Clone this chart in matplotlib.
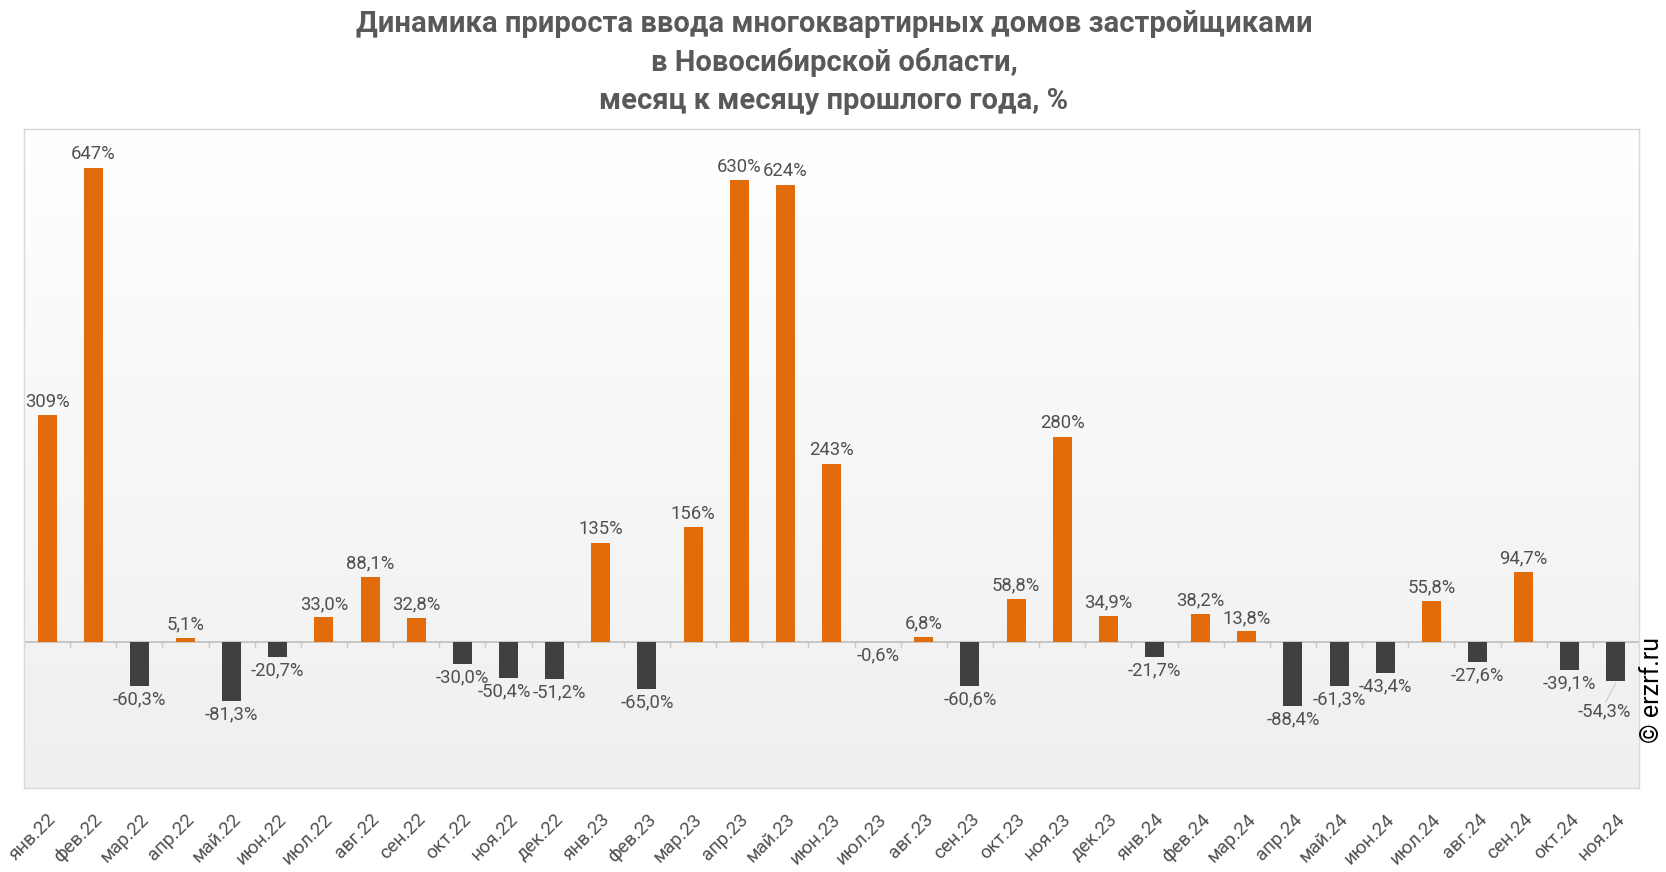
import matplotlib
matplotlib.use("Agg")
import matplotlib.pyplot as plt
import numpy as np
from matplotlib.colors import LinearSegmentedColormap

months = ["янв.22","фев.22","мар.22","апр.22","май.22","июн.22","июл.22","авг.22","сен.22","окт.22","ноя.22","дек.22",
          "янв.23","фев.23","мар.23","апр.23","май.23","июн.23","июл.23","авг.23","сен.23","окт.23","ноя.23","дек.23",
          "янв.24","фев.24","мар.24","апр.24","май.24","июн.24","июл.24","авг.24","сен.24","окт.24","ноя.24"]
values = [309, 647, -60.3, 5.1, -81.3, -20.7, 33.0, 88.1, 32.8, -30.0, -50.4, -51.2,
          135, -65.0, 156, 630, 624, 243, -0.6, 6.8, -60.6, 58.8, 280, 34.9,
          -21.7, 38.2, 13.8, -88.4, -61.3, -43.4, 55.8, -27.6, 94.7, -39.1, -54.3]
labels = ["309%","647%","-60,3%","5,1%","-81,3%","-20,7%","33,0%","88,1%","32,8%","-30,0%","-50,4%","-51,2%",
          "135%","-65,0%","156%","630%","624%","243%","-0,6%","6,8%","-60,6%","58,8%","280%","34,9%",
          "-21,7%","38,2%","13,8%","-88,4%","-61,3%","-43,4%","55,8%","-27,6%","94,7%","-39,1%","-54,3%"]
title = "Динамика прироста ввода многоквартирных домов застройщиками\nв Новосибирской области,\nмесяц к месяцу прошлого года, %"

plt.rcParams['font.family'] = ['Roboto', 'DejaVu Sans']

W, H = 1666, 872
fig = plt.figure(figsize=(W/100, H/100), dpi=100)
ax = fig.add_axes([24/W, 1-788/H, (1639-24)/W, (788-129)/H])

x = np.arange(len(values))
ymin, ymax = -200, 700
ax.set_xlim(-0.5, len(values)-0.5)

grad = np.linspace(0, 1, 256).reshape(-1, 1)
cmap = LinearSegmentedColormap.from_list("bg", ["#ffffff", "#efefef"])
ax.imshow(grad, cmap=cmap, aspect='auto', extent=[-0.5, len(values)-0.5, ymin, ymax],
          origin='upper', zorder=0)
ax.set_ylim(ymin, ymax)

colors = ["#e36c0a" if v >= 0 else "#404040" for v in values]
ax.bar(x, values, width=0.41, color=colors, zorder=3)
ax.axhline(0, color="#bfbfbf", lw=1.2, zorder=2)
for b in np.arange(-0.5, len(values), 1.0):
    ax.plot([b, b], [0, -7], color="#c8c8c8", lw=1, zorder=2)

label_dx = {10: -0.1, 11: 0.1}
fs = 13.3
for i, (v, lab) in enumerate(zip(values, labels)):
    dx = label_dx.get(i, 0)
    if i == len(values) - 1:
        ax.plot([i, i-0.22], [v-2, v-28], color="#cccccc", lw=0.8, zorder=4)
        ax.text(i-0.25, v-29, lab, ha='center', va='top', fontsize=fs, color="#505050", zorder=5)
    elif v >= 0:
        ax.text(i + dx, v + 6, lab, ha='center', va='bottom', fontsize=fs, color="#505050", zorder=5)
    else:
        ax.text(i + dx, v - 6, lab, ha='center', va='top', fontsize=fs, color="#505050", zorder=5)

ax.set_yticks([])
ax.set_xticks(x)
ax.set_xticklabels(months, rotation=45, ha='right', rotation_mode='anchor', fontsize=13.5, color="#505050")
ax.tick_params(axis='x', length=0, pad=16)
for s in ax.spines.values():
    s.set_color("#d9d9d9")
    s.set_linewidth(1)

fig.text(834/W, 1-10/H, title, ha='center', va='top', fontsize=21, fontweight='bold',
         color="#595959", linespacing=1.45)
fig.text(1652/W, 1-690/H, "© erzrf.ru", rotation=90, ha='center', va='center', fontsize=18, color="#000000")

fig.savefig("out.png", dpi=100)
